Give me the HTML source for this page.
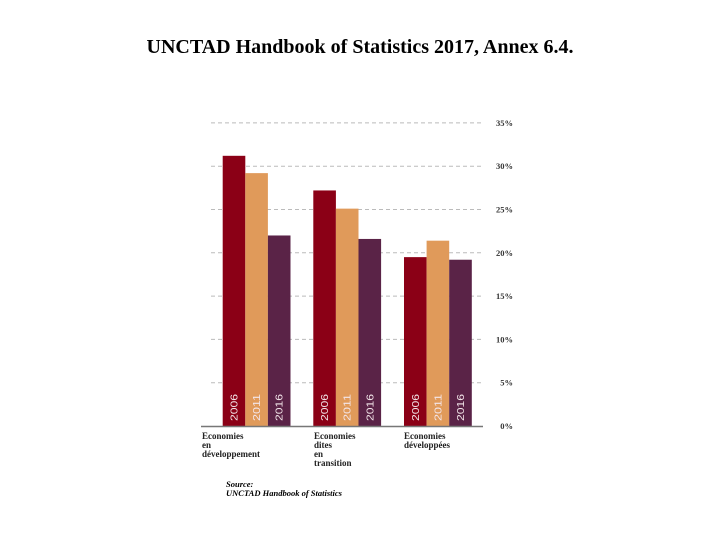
<!DOCTYPE html>
<html><head><meta charset="utf-8"><style>
body{margin:0;background:#fff;width:720px;height:540px;overflow:hidden}
svg{display:block}
</style></head><body>
<svg width="720" height="540">
<text x="360" y="53" text-anchor="middle" font-family="Liberation Serif" font-weight="bold" font-size="20">UNCTAD Handbook of Statistics 2017, Annex 6.4.</text>
<g id="grid"></g><g id="bars"></g><g id="labels"></g>
<line x1="201" y1="426.5" x2="483" y2="426.5" stroke="#777" stroke-width="1.5"/>
<text x="226" y="487" font-family="Liberation Serif" font-style="italic" font-weight="bold" font-size="8.5">Source:</text>
<text x="226" y="496" font-family="Liberation Serif" font-style="italic" font-weight="bold" font-size="8.5">UNCTAD Handbook of Statistics</text>
</svg>
<script>
const categories=[["Economies","en","développement"],["Economies","dites","en","transition"],["Economies","développées"]];
const years=["2006","2011","2016"];
const v2006=[31.2,27.2,19.5];
const v2011=[29.2,25.1,21.4];
const v2016=[22.0,21.6,19.2];
const ticks=[0,5,10,15,20,25,30,35];
const colors=["#8b0016","#e09a5a","#5a2347"];
const NS="http://www.w3.org/2000/svg";
const y=v=>426-v*8.66;
const groupX=[222.7,313.3,404];const bw=22.6;
function el(t,a,p){const e=document.createElementNS(NS,t);for(const k in a)e.setAttribute(k,a[k]);document.getElementById(p).appendChild(e);return e;}
ticks.forEach(t=>{
  if(t>0){const l=el("line",{x1:211,x2:483,y1:y(t),y2:y(t),stroke:"#bbb","stroke-dasharray":"4,3","stroke-width":1},"grid");
  
  }
  const tx=el("text",{x:513,y:y(t)+3,"text-anchor":"end","font-family":"Liberation Serif","font-weight":"bold","font-size":8.5,fill:"#333"},"labels");
  tx.textContent=t+"%";
  
  
});
const series=[v2006,v2011,v2016];
series.forEach((s,si)=>{s.forEach((v,ci)=>{
  const x=groupX[ci]+si*bw;
  const r=el("rect",{x:x,y:y(v),width:bw,height:426-y(v),fill:colors[si]},"bars");
  
  
  const t=el("text",{transform:`translate(${x+bw/2+3.5},421) rotate(-90)`,"font-family":"Liberation Sans","font-size":10,fill:"#f3e6ea",textLength:27,lengthAdjust:"spacingAndGlyphs"},"bars");
  t.textContent=years[si];
  
  
});});
const labX=[202,314,404];
categories.forEach((lines,ci)=>{lines.forEach((ln,li)=>{
  const t=el("text",{x:labX[ci],y:439+li*9,"font-family":"Liberation Serif","font-weight":"bold","font-size":9,fill:"#222"},"labels");
  t.textContent=ln;
  
  
});});
</script>
</body></html>
